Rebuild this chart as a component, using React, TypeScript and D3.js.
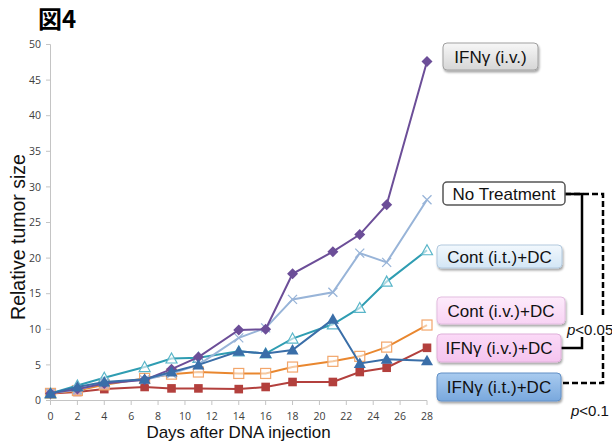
import React from "react";
import * as d3 from "d3";

// days on which tumor size was measured
const days = [0, 2, 4, 7, 9, 11, 14, 16, 18, 21, 23, 25, 28];

// relative tumor size per group
const ifnIv = [1.0, 1.6, 2.4, 2.9, 4.4, 6.1, 9.9, 10.0, 17.8, 20.9, 23.3, 27.5, 47.6];
const noTreatment = [1.0, 1.5, 2.5, 2.9, 3.8, 5.0, 8.8, 10.2, 14.2, 15.2, 20.7, 19.4, 28.2];
const contIt = [1.0, 2.1, 3.2, 4.7, 5.9, 6.0, 6.9, 6.6, 8.7, 10.7, 13.0, 16.7, 21.1];
const contIv = [1.0, 1.4, 2.2, 3.1, 3.7, 4.0, 3.8, 3.8, 4.7, 5.5, 6.2, 7.5, 10.6];
const ifnIvDc = [1.0, 1.2, 1.6, 1.9, 1.7, 1.7, 1.6, 1.9, 2.6, 2.6, 4.0, 4.6, 7.4];
const ifnItDc = [1.0, 1.9, 2.6, 3.0, 4.0, 5.0, 6.9, 6.6, 7.1, 11.4, 5.2, 5.8, 5.6];

const yTicks = [0, 5, 10, 15, 20, 25, 30, 35, 40, 45, 50];
const xTicks = d3.range(0, 29, 2);

const legendLabels = [
  "IFNγ (i.v.)",
  "No Treatment",
  "Cont (i.t.)+DC",
  "Cont (i.v.)+DC",
  "IFNγ (i.v.)+DC",
  "IFNγ (i.t.)+DC",
];

const W = 612;
const H = 445;

type Marker = "diamond" | "cross" | "triOpen" | "sqOpen" | "sqFill" | "triFill";

const series: { values: number[]; line: string; mark: string; marker: Marker }[] = [
  { values: ifnIvDc, line: "#b3403d", mark: "#b3403d", marker: "sqFill" },
  { values: contIv, line: "#e9872f", mark: "#f2a66b", marker: "sqOpen" },
  { values: contIt, line: "#2f9db2", mark: "#5ab6c9", marker: "triOpen" },
  { values: noTreatment, line: "#98b4d8", mark: "#98b4d8", marker: "cross" },
  { values: ifnIv, line: "#6c4e98", mark: "#6c4e98", marker: "diamond" },
  { values: ifnItDc, line: "#3a6ea8", mark: "#3a6ea8", marker: "triFill" },
];

const boxes = [
  { x: 443, y: 43, w: 95, h: 27, top: "#f7f7f7", bottom: "#d6d6d6", stroke: "#a0a0a0", shadow: true },
  { x: 443, y: 182, w: 122, h: 23, top: "#ffffff", bottom: "#ffffff", stroke: "#555555", shadow: false },
  { x: 437, y: 245, w: 125, h: 23, top: "#f2f8fd", bottom: "#d3e6f5", stroke: "#b2c9de", shadow: true },
  { x: 437, y: 297, w: 128, h: 27, top: "#fdebfb", bottom: "#f8d3f4", stroke: "#e3bde0", shadow: true },
  { x: 437, y: 334, w: 124, h: 28, top: "#fbdaf7", bottom: "#f5c4ef", stroke: "#dfb0da", shadow: true },
  { x: 437, y: 373, w: 124, h: 28, top: "#a9cbef", bottom: "#79a8dd", stroke: "#6290c6", shadow: true },
];

function MarkerShape({ kind, color }: { kind: Marker; color: string }) {
  switch (kind) {
    case "diamond":
      return <path d="M0,-5.5L5.5,0L0,5.5L-5.5,0Z" fill={color} />;
    case "cross":
      return <path d="M-4.5,-4.5L4.5,4.5M-4.5,4.5L4.5,-4.5" stroke={color} strokeWidth={1.3} />;
    case "triOpen":
      return <path d="M0,-5.5L5.5,4.5L-5.5,4.5Z" fill="rgba(255,255,255,0.6)" stroke={color} strokeWidth={1.2} />;
    case "triFill":
      return <path d="M0,-6L6,4.5L-6,4.5Z" fill={color} />;
    case "sqOpen":
      return <rect x={-5} y={-5} width={10} height={10} fill="rgba(255,255,255,0.55)" stroke={color} strokeWidth={1.2} />;
    case "sqFill":
      return <rect x={-4.3} y={-4.3} width={8.6} height={8.6} fill={color} />;
  }
}

export default function App() {
  const x = d3.scaleLinear().domain([0, 28]).range([50.5, 427]);
  const y = d3.scaleLinear().domain([0, 50]).range([400.5, 44.5]);

  const line = d3
    .line<number>()
    .x((_, i) => x(days[i]))
    .y((d) => y(d));

  const font = "'Liberation Sans', Arial, sans-serif";
  const tickFont = "'Open Sans', 'Liberation Sans', sans-serif";

  return (
    <svg width={W} height={H} style={{ position: "absolute", left: 0, top: 0, background: "#fff" }}>
      <defs>
        <filter id="shadow" x="-10%" y="-20%" width="130%" height="160%">
          <feDropShadow dx="1" dy="2" stdDeviation="1.2" floodColor="#000" floodOpacity="0.35" />
        </filter>
        {boxes.map((b, i) => (
          <linearGradient key={i} id={`grad${i}`} x1="0" y1="0" x2="0" y2="1">
            <stop offset="0%" stopColor={b.top} />
            <stop offset="100%" stopColor={b.bottom} />
          </linearGradient>
        ))}
      </defs>

      {/* title */}
      <text x={38} y={28} fontFamily="'Noto Sans CJK JP', sans-serif" fontWeight={700} fontSize={24} fill="#000">
        図4
      </text>

      {/* y axis */}
      <line x1={x(0)} x2={x(0)} y1={y(50)} y2={y(0)} stroke="#c4c4c4" strokeWidth={1} />
      {yTicks.map((t) => (
        <g key={t} transform={`translate(0,${y(t)})`}>
          <line x1={x(0) - 4.5} x2={x(0)} stroke="#c4c4c4" />
          <text x={41} dy="0.35em" textAnchor="end" fontFamily={tickFont} fontSize={10.5} fill="#404040">
            {t}
          </text>
        </g>
      ))}

      {/* x axis */}
      <line x1={x(0)} x2={x(28)} y1={y(0)} y2={y(0)} stroke="#c4c4c4" strokeWidth={1} />
      {xTicks.map((t) => (
        <g key={t} transform={`translate(${x(t)},0)`}>
          <line y1={y(0)} y2={y(0) + 4.5} stroke="#c4c4c4" />
          <text y={420} textAnchor="middle" fontFamily={tickFont} fontSize={10.5} fill="#404040">
            {t}
          </text>
        </g>
      ))}

      {/* axis titles */}
      <text x={238.5} y={438} textAnchor="middle" fontFamily={font} fontSize={17} fill="#111">
        Days after DNA injection
      </text>
      <text
        transform={`translate(25,237) rotate(-90)`}
        textAnchor="middle"
        fontFamily={font}
        fontSize={19.5}
        fill="#111"
      >
        Relative tumor size
      </text>

      {/* series */}
      {series.map((s, i) => (
        <g key={i}>
          <path d={line(s.values) ?? ""} fill="none" stroke={s.line} strokeWidth={2} />
          {s.values.map((v, j) => (
            <g key={j} transform={`translate(${x(days[j])},${y(v)})`}>
              <MarkerShape kind={s.marker} color={s.mark} />
            </g>
          ))}
        </g>
      ))}

      {/* significance brackets */}
      <path d="M565,194H582V315M582,337V348H561" fill="none" stroke="#000" strokeWidth={2.5} />
      <path d="M565,194H603V318M603,336V383H561" fill="none" stroke="#000" strokeWidth={2.5} strokeDasharray="6,3" />
      <text x={567} y={335} fontFamily={font} fontSize={15} fill="#111">
        <tspan fontStyle="italic">p</tspan>&lt;0.05
      </text>
      <text x={571} y={416} fontFamily={font} fontSize={15} fill="#111">
        <tspan fontStyle="italic">p</tspan>&lt;0.1
      </text>

      {/* legend boxes */}
      {boxes.map((b, i) => (
        <g key={i}>
          <rect
            x={b.x}
            y={b.y}
            width={b.w}
            height={b.h}
            rx={4}
            fill={`url(#grad${i})`}
            stroke={b.stroke}
            strokeWidth={i === 1 ? 1.5 : 1}
            filter={b.shadow ? "url(#shadow)" : undefined}
          />
          <text
            x={b.x + b.w / 2}
            y={b.y + b.h / 2}
            dy="0.36em"
            textAnchor="middle"
            fontFamily={font}
            fontSize={17}
            fill="#111"
          >
            {legendLabels[i]}
          </text>
        </g>
      ))}
    </svg>
  );
}
